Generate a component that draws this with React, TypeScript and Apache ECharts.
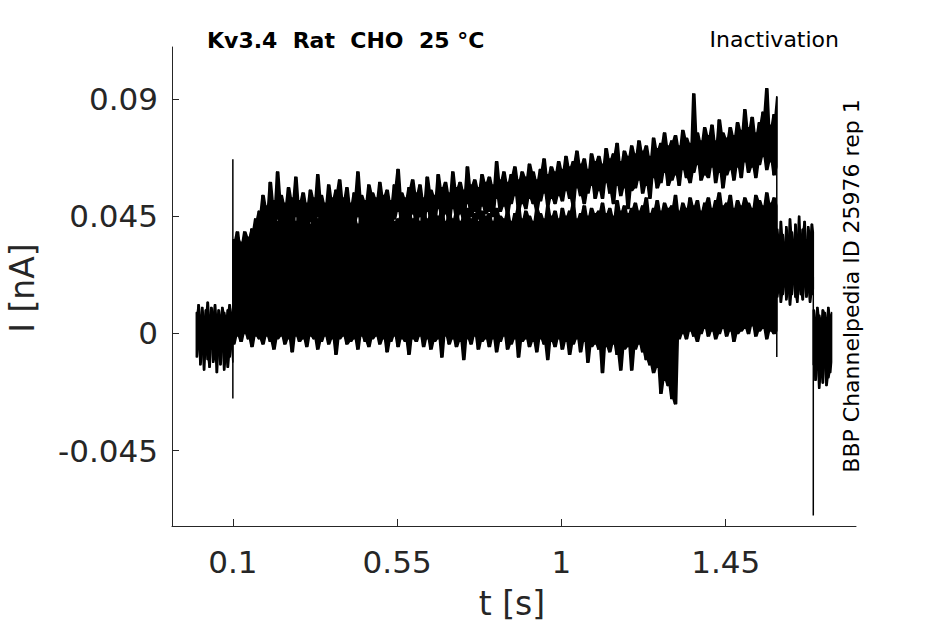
import React, { useEffect, useRef } from "react";
import * as echarts from "echarts";

// Axis ticks
const X_TICKS = [0.1, 0.55, 1, 1.45];
const X_TICK_LABELS = ["0.1", "0.55", "1", "1.45"];
const Y_TICKS = [-0.045, 0, 0.045, 0.09];
const Y_TICK_LABELS = ["-0.045", "0", "0.045", "0.09"];

// Holding segment before the pulse (t = 0 .. 0.10 s, every 5 ms), envelope in pA
const PRE_T0 = 0;
const PRE_DT = 0.005;
const PRE_HI_PA = [8, 11, 7, 10, 6, 9, 12, 7, 10, 8, 11, 6, 9, 7, 10, 8, 6, 9, 11, 8, 10];
const PRE_LO_PA = [-9, -6, -12, -8, -14, -7, -10, -13, -6, -11, -9, -15, -8, -12, -7, -14, -10, -13, -9, -6, -11];

// Pulse segment (t = 0.10 .. 1.59 s, every 10 ms)
const MAIN_T0 = 0.1;
const MAIN_DT = 0.01;
// dense bundle of sweeps: lower and upper envelope (pA)
const BUNDLE_LO_PA = [
  -4, -1, -3, 0, -2, -5, -1, -2, -4, -1,
  -3, -6, -2, -1, -4, -2, -7, -1, -3, -2,
  -5, -1, -2, -6, -3, -1, -4, -2, -8, -2,
  -1, -4, -3, -2, -6, -1, -3, -5, -2, -1,
  -4, -2, -7, -3, -1, -5, -2, -3, -8, -2,
  -3, -1, -5, -2, -6, -3, -2, -9, -1, -4,
  -2, -5, -3, -10, -2, -4, -1, -6, -3, -2,
  -5, -2, -7, -3, -1, -6, -4, -2, -9, -3,
  -2, -5, -3, -7, -2, -4, -10, -3, -5, -2,
  -6, -3, -8, -4, -2, -7, -3, -11, -5, -4,
  -6, -15, -5, -7, -4, -8, -14, -6, -5, -14,
  -6, -4, -7, -10, -12, -15, -13, -23, -18, -20,
  -25, -27, -2, 0, -2, 1, -1, -3, 0, 2,
  -1, 1, -2, 0, 2, -1, 1, -3, 0, 1,
  2, 0, 3, -1, 1, 2, -2, 1, 0, 1,
];
const BUNDLE_HI_PA = [
  36, 39, 33, 37, 35, 40, 34, 38, 42, 45,
  44, 47, 43, 46, 42, 45, 48, 43, 46, 44,
  45, 42, 47, 44, 46, 43, 45, 48, 42, 46,
  44, 47, 43, 45, 42, 46, 44, 48, 43, 45,
  46, 42, 45, 47, 43, 44, 46, 42, 47, 44,
  45, 43, 47, 44, 46, 42, 45, 48, 43, 46,
  44, 47, 43, 45, 48, 44, 46, 43, 47, 45,
  46, 43, 48, 45, 44, 47, 43, 46, 49, 44,
  47, 45, 43, 48, 46, 44, 49, 45, 47, 44,
  48, 45, 47, 50, 44, 46, 49, 45, 48, 46,
  47, 50, 46, 48, 45, 51, 47, 49, 46, 48,
  50, 47, 49, 52, 46, 48, 51, 47, 50, 48,
  49, 53, 47, 50, 48, 52, 49, 51, 47, 50,
  52, 48, 51, 54, 49, 50, 53, 48, 51, 49,
  52, 50, 48, 53, 51, 49, 54, 50, 52, 49,
];
// largest sweep (slowly increasing current): lower and upper envelope (pA)
const TOP_LO_PA = [
  25, 28, 26, 30, 28, 31, 34, 37, 40, 38,
  42, 39, 44, 41, 38, 43, 40, 45, 39, 42,
  40, 43, 39, 45, 41, 38, 44, 40, 42, 46,
  41, 44, 39, 42, 45, 40, 38, 44, 42, 40,
  45, 41, 43, 39, 44, 47, 42, 40, 44, 46,
  42, 45, 40, 47, 43, 41, 48, 44, 46, 42,
  48, 44, 46, 43, 50, 45, 47, 44, 49, 46,
  47, 45, 52, 47, 49, 46, 50, 53, 47, 50,
  48, 52, 50, 47, 51, 54, 49, 52, 50, 53,
  51, 55, 52, 49, 56, 53, 50, 54, 57, 52,
  55, 52, 58, 54, 50, 57, 53, 56, 48, 55,
  56, 59, 54, 57, 52, 60, 56, 58, 62, 57,
  59, 61, 57, 63, 60, 58, 62, 65, 59, 61,
  60, 64, 58, 62, 56, 61, 63, 59, 64, 60,
  66, 62, 64, 60, 65, 68, 63, 66, 61, 64,
];
const TOP_HI_PA = [
  34, 37, 35, 39, 37, 40, 44, 47, 53, 49,
  58, 51, 62, 53, 50, 56, 52, 60, 51, 54,
  50, 55, 52, 61, 53, 50, 57, 52, 55, 59,
  52, 56, 50, 54, 62, 53, 51, 57, 54, 52,
  58, 53, 55, 51, 57, 63, 54, 52, 56, 59,
  54, 57, 52, 60, 55, 53, 61, 56, 58, 54,
  62, 56, 58, 55, 64, 57, 59, 56, 61, 58,
  60, 57, 66, 59, 62, 58, 61, 64, 59, 62,
  60, 65, 62, 59, 63, 67, 61, 64, 62, 66,
  63, 68, 64, 66, 70, 65, 67, 63, 69, 66,
  68, 65, 71, 67, 69, 73, 66, 70, 68, 72,
  69, 74, 70, 72, 68, 75, 71, 73, 77, 72,
  74, 76, 72, 78, 75, 73, 92, 77, 74, 79,
  76, 80, 74, 82, 77, 75, 79, 76, 81, 78,
  86, 79, 83, 77, 81, 85, 94, 80, 84, 91,
];

// Tail of the longest sweeps (t = 1.59 .. 1.69 s, every 5 ms)
const TAIL_T0 = 1.59;
const TAIL_DT = 0.005;
const TAIL_HI_PA = [40, 36, 43, 38, 35, 41, 37, 44, 39, 36, 42, 38, 45, 37, 40, 43, 36, 41, 38, 42, 39];
const TAIL_LO_PA = [14, 17, 12, 15, 18, 13, 16, 11, 15, 19, 14, 12, 17, 15, 13, 18, 14, 16, 12, 15, 17];

// Return to holding (t = 1.69 .. 1.74 s, every 5 ms)
const POST_T0 = 1.69;
const POST_DT = 0.005;
const POST_HI_PA = [9, 6, 10, 7, 5, 9, 8, 6, 10, 7, 8];
const POST_LO_PA = [-12, -18, -14, -21, -16, -19, -13, -20, -17, -15, -11];

// Capacitive transients / sweep ends: [time s, current pA]
const ONSET_TRANSIENT: [number, number][] = [[0.1, -25], [0.1, 67]];
const SWEEP_END_1: [number, number][] = [[1.59, -9], [1.59, 91]];
const SWEEP_END_2: [number, number][] = [[1.69, -70], [1.69, 22]];

const FONT = "'DejaVu Sans', 'Liberation Sans', sans-serif";
const AXIS_GRAY = "#262626";

// A band of overlapping noisy sweeps: for each sample interval, a filled
// column from the lower to the upper envelope, with a sloped join to the next
// sample, positioned through the cartesian coordinate system.
function band(name: string, t0: number, dt: number, lo: number[], hi: number[]) {
  const data: number[][] = [];
  for (let i = 0; i < lo.length - 1; i++) {
    data.push([t0 + i * dt, lo[i] / 1000, hi[i] / 1000, t0 + (i + 1) * dt, lo[i + 1] / 1000, hi[i + 1] / 1000]);
  }
  return {
    type: "custom",
    name,
    silent: true,
    encode: { x: [0, 3], y: [1, 2, 4, 5] },
    data,
    renderItem: (_params: any, api: any) => {
      const t0v = api.value(0);
      const t1v = api.value(3);
      const tm = t0v + (t1v - t0v) * 0.55;
      const pts = [
        api.coord([t0v, api.value(1)]),
        api.coord([tm, api.value(1)]),
        api.coord([t1v, api.value(4)]),
        api.coord([t1v, api.value(5)]),
        api.coord([tm, api.value(2)]),
        api.coord([t0v, api.value(2)]),
      ];
      return {
        type: "polygon",
        shape: { points: pts },
        style: { fill: "#000", stroke: "#000", lineWidth: 1.6, lineJoin: "round" },
      };
    },
  };
}

function segment(name: string, pts: [number, number][]) {
  return {
    type: "line",
    name,
    data: pts.map(([t, v]) => [t, v / 1000]),
    symbol: "none",
    showSymbol: false,
    silent: true,
    lineStyle: { color: "#000", width: 1.5 },
  };
}

function fmt(ticks: number[], labels: string[]) {
  return (v: number) => {
    for (let i = 0; i < ticks.length; i++) {
      if (Math.abs(ticks[i] - v) < 1e-9) return labels[i];
    }
    return "";
  };
}

export default function App() {
  const ref = useRef<HTMLDivElement>(null);
  useEffect(() => {
    if (!ref.current) return;
    const chart = echarts.init(ref.current, undefined, { renderer: "svg" });
    chart.setOption({
      animation: false,
      backgroundColor: "#fff",
      grid: { left: 172, right: 89, top: 47, bottom: 98, containLabel: false, outerBoundsMode: "none" },
      xAxis: {
        type: "value",
        min: -0.0667,
        max: 1.807,
        axisLine: { show: true, onZero: false, lineStyle: { color: AXIS_GRAY, width: 1 } },
        axisTick: { show: true, inside: true, length: 7, customValues: X_TICKS, lineStyle: { color: AXIS_GRAY } },
        axisLabel: {
          show: true,
          customValues: X_TICKS,
          formatter: fmt(X_TICKS, X_TICK_LABELS),
          fontSize: 31,
          fontFamily: FONT,
          color: AXIS_GRAY,
          margin: 20,
        },
        splitLine: { show: false },
      },
      yAxis: {
        type: "value",
        min: -0.074,
        max: 0.1101,
        axisLine: { show: true, onZero: false, lineStyle: { color: AXIS_GRAY, width: 1 } },
        axisTick: { show: true, inside: true, length: 7, customValues: Y_TICKS, lineStyle: { color: AXIS_GRAY } },
        axisLabel: {
          show: true,
          customValues: Y_TICKS,
          formatter: fmt(Y_TICKS, Y_TICK_LABELS),
          fontSize: 31,
          fontFamily: FONT,
          color: AXIS_GRAY,
          margin: 14,
        },
        splitLine: { show: false },
      },
      series: [
        band("pre", PRE_T0, PRE_DT, PRE_LO_PA, PRE_HI_PA),
        band("bundle", MAIN_T0, MAIN_DT, BUNDLE_LO_PA, BUNDLE_HI_PA),
        band("top", MAIN_T0, MAIN_DT, TOP_LO_PA, TOP_HI_PA),
        band("tail", TAIL_T0, TAIL_DT, TAIL_LO_PA, TAIL_HI_PA),
        band("post", POST_T0, POST_DT, POST_LO_PA, POST_HI_PA),
        segment("onset", ONSET_TRANSIENT),
        segment("end1", SWEEP_END_1),
        segment("end2", SWEEP_END_2),
      ],
      graphic: [
        {
          type: "text",
          x: 207,
          y: 40,
          style: {
            text: "Kv3.4  Rat  CHO  25 °C",
            fill: "#000",
            font: `bold 22px ${FONT}`,
            textAlign: "left",
            textVerticalAlign: "middle",
            align: "left",
            verticalAlign: "middle",
          },
        },
        {
          type: "text",
          x: 839,
          y: 39,
          style: {
            text: "Inactivation",
            fill: "#000",
            font: `22px ${FONT}`,
            textAlign: "right",
            textVerticalAlign: "middle",
            align: "right",
            verticalAlign: "middle",
          },
        },
        {
          type: "text",
          x: 851,
          y: 286,
          rotation: Math.PI / 2,
          style: {
            text: "BBP Channelpedia ID 25976 rep 1",
            fill: "#000",
            font: `22px ${FONT}`,
            textAlign: "center",
            textVerticalAlign: "middle",
            align: "center",
            verticalAlign: "middle",
          },
        },
        {
          type: "text",
          x: 22,
          y: 288,
          rotation: Math.PI / 2,
          style: {
            text: "I [nA]",
            fill: AXIS_GRAY,
            font: `33px ${FONT}`,
            textAlign: "center",
            textVerticalAlign: "middle",
            align: "center",
            verticalAlign: "middle",
          },
        },
        {
          type: "text",
          x: 512,
          y: 603,
          style: {
            text: "t [s]",
            fill: AXIS_GRAY,
            font: `33px ${FONT}`,
            textAlign: "center",
            textVerticalAlign: "middle",
            align: "center",
            verticalAlign: "middle",
          },
        },
      ],
    });
    return () => chart.dispose();
  }, []);
  return (
    <div
      ref={ref}
      style={{ position: "fixed", left: 0, top: 0, width: 945, height: 624, background: "#fff" }}
    />
  );
}
